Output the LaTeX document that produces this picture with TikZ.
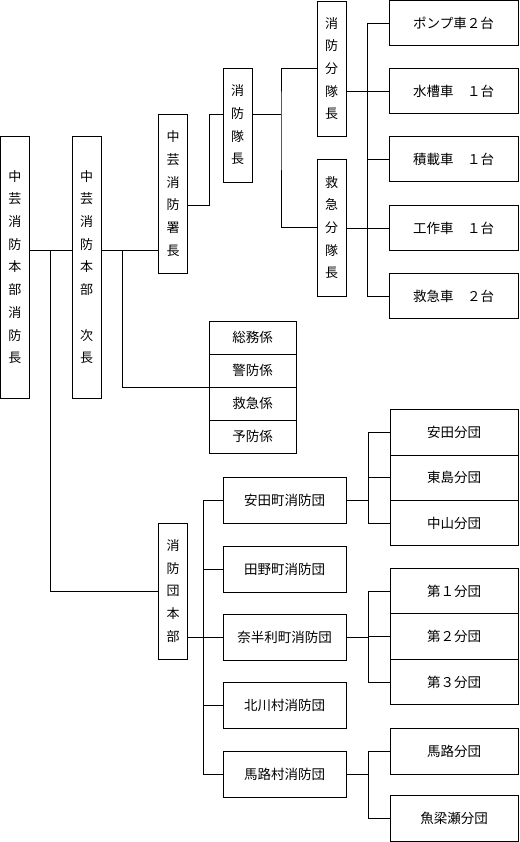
\documentclass[tikz,border=0pt]{standalone}
\usepackage{fontspec}
\newfontfamily\jp{Noto Sans CJK JP}
\usetikzlibrary{positioning}

\begin{document}
\begin{tikzpicture}[
        x=1pt, y=-1pt,
        line/.style={line width=0.9pt},
        vbox/.style={rectangle, draw, line width=0.9pt, minimum width=29, inner sep=0pt, align=center, font=\jp\fontsize{13}{22.7}\selectfont},
        hbox/.style={rectangle, draw, line width=0.9pt, minimum height=46, inner sep=0pt, outer sep=0pt, font=\jp\fontsize{13.5}{16}\selectfont},
        kbox/.style={rectangle, draw, line width=0.9pt, minimum width=87, minimum height=33, inner sep=0pt, outer sep=0pt, font=\jp\fontsize{13.5}{16}\selectfont}
    ]
    \useasboundingbox (0,0) rectangle (519,842);

    % Headquarters
    \node[vbox, minimum height=262] (chief) at (15,267) {中\\芸\\消\\防\\本\\部\\消\\防\\長};
    \node[vbox, minimum height=262] (deputy) at (86.5,267) {中\\芸\\消\\防\\本\\部\\　\\次\\長};

    % Fire station
    \node[vbox, minimum height=159] (shocho) at (173,193.5) {中\\芸\\消\\防\\署\\長};
    \node[vbox, minimum height=114] (taicho) at (237.5,125) {消\\防\\隊\\長};
    \node[vbox, minimum height=135] (bunshobo) at (331.5,68.5) {消\\防\\分\\隊\\長};
    \node[vbox, minimum height=137] (bunkyu) at (331.5,227.5) {救\\急\\分\\隊\\長};

    % Vehicles
    \node[hbox, minimum width=129, minimum height=45] (veh1) at (453.5,23) {ポンプ車２台};
    \node[hbox, minimum width=129, minimum height=45] (veh2) at (453.5,91) {水槽車　１台};
    \node[hbox, minimum width=129, minimum height=45] (veh3) at (453.5,159) {積載車　１台};
    \node[hbox, minimum width=129, minimum height=45] (veh4) at (453.5,228) {工作車　１台};
    \node[hbox, minimum width=129, minimum height=45] (veh5) at (453.5,296) {救急車　２台};

    % Sections
    \node[kbox] (kakari1) at (252.5,337.5) {総務係};
    \node[kbox, below=0pt of kakari1] (kakari2) {警防係};
    \node[kbox, below=0pt of kakari2] (kakari3) {救急係};
    \node[kbox, below=0pt of kakari3] (kakari4) {予防係};

    % Volunteer fire corps
    \node[vbox, minimum height=136] (danhonbu) at (173,591) {消\\防\\団\\本\\部};
    \node[hbox, minimum width=123] (town1) at (284.5,500) {安田町消防団};
    \node[hbox, minimum width=123] (town2) at (284.5,569) {田野町消防団};
    \node[hbox, minimum width=123] (town3) at (284.5,637) {奈半利町消防団};
    \node[hbox, minimum width=123] (town4) at (284.5,705) {北川村消防団};
    \node[hbox, minimum width=123] (town5) at (284.5,774) {馬路村消防団};

    % Branches
    \node[hbox, minimum width=128, minimum height=45.3] (yasuda) at (454,432.5) {安田分団};
    \node[hbox, minimum width=128, minimum height=45.3, below=0pt of yasuda] (higashi) {東島分団};
    \node[hbox, minimum width=128, minimum height=45.3, below=0pt of higashi] (nakayama) {中山分団};
    \node[hbox, minimum width=128, minimum height=45.5] (dai1) at (454,591) {第１分団};
    \node[hbox, minimum width=128, minimum height=45.5, below=0pt of dai1] (dai2) {第２分団};
    \node[hbox, minimum width=128, minimum height=45.5, below=0pt of dai2] (dai3) {第３分団};
    \node[hbox, minimum width=128] (umaji) at (454,751) {馬路分団};
    \node[hbox, minimum width=128] (yanase) at (454,818.5) {魚梁瀬分団};

    % Junctions
    \coordinate (j1) at (50,250);
    \coordinate (j2) at (122,250);
    \coordinate (j3) at (209,205);
    \coordinate (j4) at (209,114);
    \coordinate (j5) at (281,114);
    \coordinate (vbus) at (367,0);
    \coordinate (tbus) at (203,0);
    \coordinate (sbus) at (368,0);

    % Edges
    \draw[line] (chief.east |- j1) -- (deputy.west |- j1);
    \draw[line] (j1) |- (danhonbu.west);
    \draw[line] (deputy.east |- j2) -- (shocho.west |- j2);
    \draw[line] (j2) |- (kakari2.south west);
    \draw[line] (shocho.east |- j3) -- (j3) -- (j4) -- (taicho.west |- j4);
    \draw[line] (taicho.east |- j5) -- (j5);
    \draw[line] (bunshobo.west) -| (j5) |- (bunkyu.west);
    \draw[line] (bunshobo.east |- veh2) -- (veh2.west);
    \draw[line] (bunkyu.east |- veh4) -- (veh4.west);
    \draw[line] (veh1.west) -- (veh1.west -| vbus) -- (veh5.west -| vbus) -- (veh5.west);
    \draw[line] (veh3.west -| vbus) -- (veh3.west);

    \draw[line] (danhonbu.east |- town3) -- (town3.west);
    \draw[line] (town1.west) -- (town1.west -| tbus) -- (town5.west -| tbus) -- (town5.west);
    \draw[line] (town2.west -| tbus) -- (town2.west);
    \draw[line] (town4.west -| tbus) -- (town4.west);

    \draw[line] (town1.east) -- (town1.east -| sbus);
    \draw[line] (yasuda.west) -- (yasuda.west -| sbus) -- (nakayama.west -| sbus) -- (nakayama.west);
    \draw[line] (higashi.west -| sbus) -- (higashi.west);
    \draw[line] (town3.east) -- (town3.east -| sbus);
    \draw[line] (dai1.west) -- (dai1.west -| sbus) -- (dai3.west -| sbus) -- (dai3.west);
    \draw[line] (dai2.west -| sbus) -- (dai2.west);
    \draw[line] (town5.east) -- (town5.east -| sbus);
    \draw[line] (umaji.west) -- (umaji.west -| sbus) -- (yanase.west -| sbus) -- (yanase.west);
\end{tikzpicture}
\end{document}
